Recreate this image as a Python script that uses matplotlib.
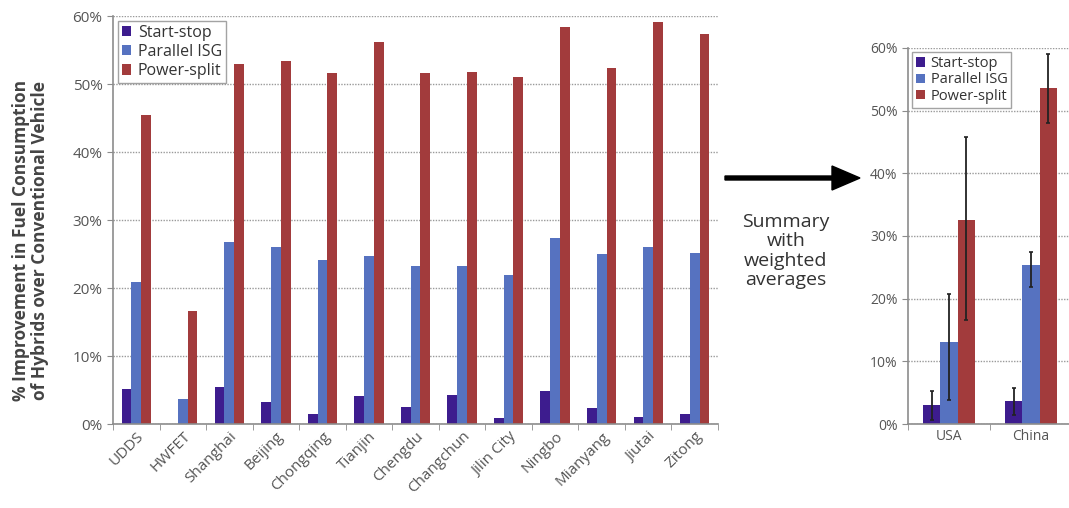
import matplotlib.pyplot as plt
import numpy as np
from matplotlib.patches import FancyArrow
from matplotlib.ticker import PercentFormatter

plt.rcParams['font.family'] = ['Open Sans', 'DejaVu Sans']

# per drive cycle / city results (%)
cycles = ['UDDS', 'HWFET', 'Shanghai', 'Beijing', 'Chongqing', 'Tianjin', 'Chengdu',
          'Changchun', 'Jilin City', 'Ningbo', 'Mianyang', 'Jiutai', 'Zitong']
start_stop = [5.1, 0.0, 5.5, 3.2, 1.5, 4.1, 2.5, 4.2, 0.9, 4.9, 2.4, 1.1, 1.4]
parallel_isg = [20.9, 3.7, 26.8, 26.0, 24.1, 24.7, 23.3, 23.2, 21.9, 27.4, 25.0, 26.1, 25.1]
power_split = [45.5, 16.6, 52.9, 53.4, 51.6, 56.2, 51.6, 51.7, 51.0, 58.4, 52.3, 59.1, 57.3]

# weighted averages with error ranges (%)
regions = ['USA', 'China']
avg_ss = [3.0, 3.6]
avg_isg = [13.1, 25.4]
avg_ps = [32.5, 53.6]
err_ss = [[2.3, 2.1], [2.3, 2.1]]      # [lower], [upper]
err_isg = [[9.3, 3.5], [7.7, 2.1]]
err_ps = [[15.9, 5.5], [13.3, 5.5]]

labels = ['Start-stop', 'Parallel ISG', 'Power-split']
colors = ['#3d1c8e', '#5672c0', '#a23b3c']
tick_grey = '#555555'

W, H = 1069, 508
fig = plt.figure(figsize=(W / 100, H / 100), dpi=100)


def style_axes(ax, n, fs):
    ax.set_ylim(0, 60)
    ax.set_xlim(-0.5, n - 0.5)
    ax.yaxis.set_major_formatter(PercentFormatter(decimals=0))
    ax.set_yticks(range(0, 61, 10))
    ax.yaxis.grid(True, linestyle=(0, (1, 1)), color='#9a9a9a', linewidth=1.0)
    ax.set_axisbelow(True)
    for s in ['top', 'right']:
        ax.spines[s].set_visible(False)
    for s in ['left', 'bottom']:
        ax.spines[s].set_color('#8c8c8c')
        ax.spines[s].set_linewidth(1.2)
    ax.set_xticks(np.arange(n + 1) - 0.5, minor=True)
    ax.tick_params(axis='x', which='minor', length=4, color='#8c8c8c')
    ax.tick_params(axis='x', which='major', length=0, labelcolor=tick_grey, labelsize=fs)
    ax.tick_params(axis='y', length=4, color='#8c8c8c', labelcolor=tick_grey, labelsize=fs)


def add_legend(ax, fs, spacing):
    leg = ax.legend(loc='upper left', bbox_to_anchor=(0.0, 1.0), fontsize=fs,
                    frameon=True, fancybox=False, handlelength=0.6, handleheight=0.6,
                    handletextpad=0.4, borderpad=0.25, labelspacing=spacing,
                    borderaxespad=0.3, labelcolor='#333333')
    leg.get_frame().set_edgecolor('#8c8c8c')
    leg.get_frame().set_linewidth(1.0)


# left chart
ax1 = fig.add_axes([113 / W, 1 - 424 / H, 605 / W, 408 / H])
x = np.arange(len(cycles))
bw = 0.21
for i, vals in enumerate([start_stop, parallel_isg, power_split]):
    ax1.bar(x + (i - 1) * bw, vals, bw, color=colors[i], label=labels[i])
style_axes(ax1, len(cycles), 11)
ax1.set_xticks(x)
ax1.set_xticklabels(cycles, rotation=45, ha='right', rotation_mode='anchor')
ax1.set_ylabel('% Improvement in Fuel Consumption\nof Hybrids over Conventional Vehicle',
               fontsize=12.5, fontweight='bold', color='#444444', linespacing=1.1)
ax1.yaxis.set_label_coords(-0.105, 0.45)
add_legend(ax1, 11.5, 0.2)

# right chart
ax2 = fig.add_axes([908 / W, 1 - 424 / H, 164 / W, 376 / H])
xr = np.arange(len(regions))
for i, (vals, err) in enumerate([(avg_ss, err_ss), (avg_isg, err_isg), (avg_ps, err_ps)]):
    ax2.bar(xr + (i - 1) * bw, vals, bw, color=colors[i], label=labels[i],
            yerr=err, error_kw=dict(ecolor='#222222', elinewidth=1.3, capsize=1.5, capthick=1.2))
style_axes(ax2, len(regions), 10)
ax2.set_xticks(xr)
ax2.set_xticklabels(regions)
add_legend(ax2, 10.5, 0.1)

# arrow and caption between the charts
fig.patches.append(FancyArrow(
    725 / W, 1 - 178 / H, 107 / W, 0, width=4 / H, head_width=24 / H,
    head_length=28 / W, color='black', transform=fig.transFigure, figure=fig,
    length_includes_head=False))
fig.text(786 / W, 1 - 251 / H, 'Summary\nwith\nweighted\naverages', ha='center',
         va='center', fontsize=14, color='#333333', linespacing=1.1)

plt.savefig('out.png', dpi=100)
plt.close()
